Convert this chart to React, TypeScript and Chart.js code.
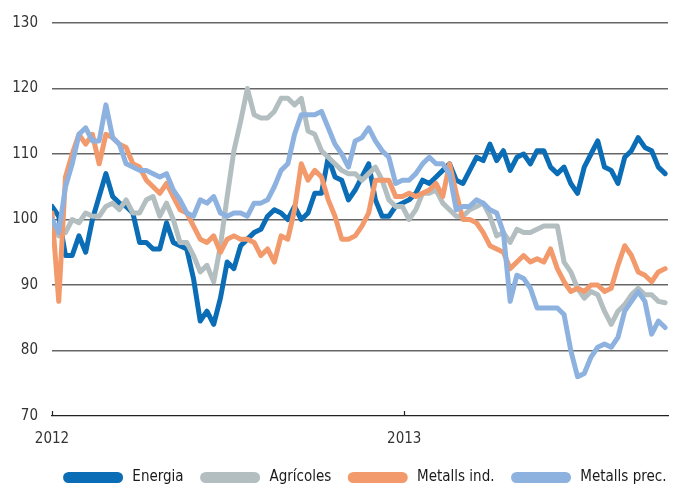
import React, { useEffect, useRef } from "react";
import { Chart, registerables } from "chart.js";

Chart.register(...registerables);

// Weekly observations, day 0 = 1 Jan 2012
const WEEK_COUNT = 92;
const days: number[] = Array.from({ length: WEEK_COUNT }, (_, i) => i * 7);

const xTickDays = [0, 366];
const xTickLabels = ["2012", "2013"];
const yTicks = [70, 80, 90, 100, 110, 120, 130];

const energia = [
  102, 100.5, 94.5, 94.5, 97.5, 95, 100, 103.5, 107, 103.5, 102.5, 102, 101, 96.5, 96.5, 95.5,
  95.5, 99.5, 96.5, 96, 95.5, 91, 84.5, 86, 84, 88, 93.5, 92.5, 96, 97, 98, 98.5,
  100.5, 101.5, 101, 100, 102, 100, 101, 104, 104, 109.5, 106.5, 106, 103, 104.5, 106.5, 108.5,
  103, 100.5, 100.5, 102, 102.5, 103, 104, 106, 105.5, 106.5, 107.5, 108.5, 106, 105.5, 107.5, 109.5,
  109, 111.5, 109, 110.5, 107.5, 109.5, 110, 108.5, 110.5, 110.5, 108, 107, 108, 105.5, 104, 108,
  110, 112, 108, 107.5, 105.5, 109.5, 110.5, 112.5, 111, 110.5, 108, 107,
];

const agricoles = [
  99.5, 97.5, 98, 100, 99.5, 101, 100.5, 100.5, 102, 102.5, 101.5, 103, 101, 101, 103, 103.5,
  100.5, 102.5, 100, 96.5, 96.5, 94.5, 92, 93, 90.5, 96, 103.5, 110.5, 115, 120, 116, 115.5,
  115.5, 116.5, 118.5, 118.5, 117.5, 118.5, 113.5, 113, 110.5, 109.5, 108.5, 107.5, 107, 107, 106, 107,
  108, 106, 103, 102, 102, 100, 101.5, 104, 104, 104.5, 102.5, 101.5, 100.5, 100.5, 101.5, 102,
  102.5, 100.5, 97.5, 98, 96.5, 98.5, 98, 98, 98.5, 99, 99, 99, 93.5, 92, 89.5, 88,
  89, 88.5, 86, 84, 86, 87, 88.5, 89.5, 88.5, 88.5, 87.5, 87.3,
];

const metallsInd = [
  101, 87.5, 106.5, 110, 113, 111.5, 113, 108.5, 113, 112.5, 111.5, 111, 108.5, 108, 106, 105,
  104, 105.5, 103.5, 101.5, 101, 99, 97, 96.5, 97.5, 95, 97, 97.5, 97, 97, 96.5, 94.5,
  95.5, 93.5, 97.5, 97, 101.5, 108.5, 106, 107.5, 106.5, 103, 100.5, 97, 97, 97.5, 99, 101,
  106, 106, 106, 103.5, 103.5, 104, 103.5, 104, 104.5, 105.5, 103.5, 108.5, 104, 100, 100, 99.5,
  98, 96, 95.5, 95, 92.5, 93.5, 94.5, 93.5, 94, 93.5, 95.5, 92.5, 90.5, 89, 89.5, 89,
  90, 90, 89, 89.5, 93, 96, 94.5, 92, 91.5, 90.5, 92, 92.5,
];

const metallsPrec = [
  100, 98, 105, 108.5, 113, 114, 112, 112, 117.5, 112.5, 111.5, 108.5, 108, 107.5, 107.5, 107,
  106.5, 107, 104.5, 103, 101, 100.5, 103, 102.5, 103.5, 101, 100.5, 101, 101, 100.5, 102.5, 102.5,
  103, 105, 107.5, 108.5, 113, 116, 116, 116, 116.5, 114, 111.5, 110, 108, 112, 112.5, 114,
  112, 110.5, 109.5, 105.5, 106, 106, 107, 108.5, 109.5, 108.5, 108.5, 107, 101.5, 102, 102, 103,
  102.5, 101.5, 101, 98, 87.5, 91.5, 91, 89.5, 86.5, 86.5, 86.5, 86.5, 85.5, 80, 76, 76.5,
  79, 80.5, 81, 80.5, 82, 86, 87.5, 89, 87.5, 82.5, 84.5, 83.5,
];

const seriesNames = ["Energia", "Agrícoles", "Metalls ind.", "Metalls prec."];
const seriesColors = ["#0A6DB5", "#B3BEC0", "#F39A6C", "#8EB2E0"];
const seriesValues = [energia, agricoles, metallsInd, metallsPrec];
const drawOrder = [4, 3, 2, 1];

const FONT = "'Liberation Sans Narrow', 'DejaVu Sans Condensed', 'Roboto Condensed', 'Liberation Sans', sans-serif";

const upTicks = {
  id: "upTicks",
  afterDraw(chart: any) {
    const x = chart.scales.x;
    const area = chart.chartArea;
    const ctx = chart.ctx;
    ctx.save();
    ctx.strokeStyle = "#222";
    ctx.lineWidth = 1.2;
    xTickDays.forEach((d) => {
      const px = Math.round(x.getPixelForValue(d)) + 0.5;
      ctx.beginPath();
      ctx.moveTo(px, area.bottom);
      ctx.lineTo(px, area.bottom - 5);
      ctx.stroke();
    });
    ctx.restore();
  },
};

// Translate the centred legend slightly to the right, as in the original layout
const legendShift = {
  id: "legendShift",
  afterLayout(chart: any) {
    if (chart.legend) {
      chart.legend.left = chart.legend.left + 32;
      chart.legend.right = chart.legend.right + 32;
    }
  },
};

export default function App() {
  const ref = useRef<HTMLCanvasElement | null>(null);

  useEffect(() => {
    if (!ref.current) return;
    const datasets = seriesNames.map((name, k) => ({
      label: name,
      data: days.map((d, i) => ({ x: d, y: seriesValues[k][i] })),
      borderColor: seriesColors[k],
      backgroundColor: seriesColors[k],
      borderWidth: 5,
      pointRadius: 0,
      borderJoinStyle: "round" as const,
      borderCapStyle: "round" as const,
      tension: 0,
      order: drawOrder[k],
    }));

    const defaultLabels = Chart.defaults.plugins.legend.labels.generateLabels;

    const chart = new Chart(ref.current, {
      type: "line",
      data: { datasets },
      plugins: [upTicks, legendShift],
      options: {
        animation: false,
        responsive: false,
        maintainAspectRatio: false,
        layout: { padding: { top: 22, right: 12, left: 0, bottom: -11 } },
        plugins: {
          tooltip: { enabled: false },
          legend: {
            position: "bottom",
            align: "center",
            labels: {
              boxWidth: 55,
              boxHeight: 6,
              padding: 19,
              color: "#1a1a1a",
              font: { family: FONT, size: 15 },
              useBorderRadius: true,
              borderRadius: 3,
              sort: (a: any, b: any) => a.datasetIndex - b.datasetIndex,
              generateLabels: (ch: any) =>
                defaultLabels(ch).map((it: any) => ({ ...it, text: " " + it.text })),
            },
          },
        },
        scales: {
          x: {
            type: "linear",
            min: 0,
            max: 640,
            afterBuildTicks: (scale: any) => {
              scale.ticks = xTickDays.map((v) => ({ value: v }));
            },
            afterFit: (scale: any) => {
              scale.height = scale.height - 11;
            },
            ticks: {
              autoSkip: false,
              maxRotation: 0,
              padding: 14,
              color: "#333",
              font: { family: FONT, size: 15 },
              callback: (v: any) => {
                const idx = xTickDays.indexOf(Number(v));
                return idx >= 0 ? xTickLabels[idx] : "";
              },
            },
            grid: { display: false, drawTicks: false },
            border: { display: true, color: "#222", width: 1.3 },
          },
          y: {
            type: "linear",
            min: 70,
            max: 130,
            afterBuildTicks: (scale: any) => {
              scale.ticks = yTicks.map((v) => ({ value: v }));
            },
            afterFit: (scale: any) => {
              scale.width = 52;
            },
            ticks: {
              padding: 14,
              color: "#333",
              font: { family: FONT, size: 15 },
            },
            grid: {
              drawTicks: false,
              color: (c: any) => (c.tick && c.tick.value === 70 ? "rgba(0,0,0,0)" : "#666"),
              lineWidth: 1.4,
            },
            border: { display: false },
          },
        },
      },
    });
    return () => chart.destroy();
  }, []);

  return (
    <div style={{ position: "fixed", left: 0, top: 0, width: 680, height: 484, background: "#fff" }}>
      <canvas ref={ref} width={680} height={484} style={{ width: 680, height: 484 }} />
    </div>
  );
}
